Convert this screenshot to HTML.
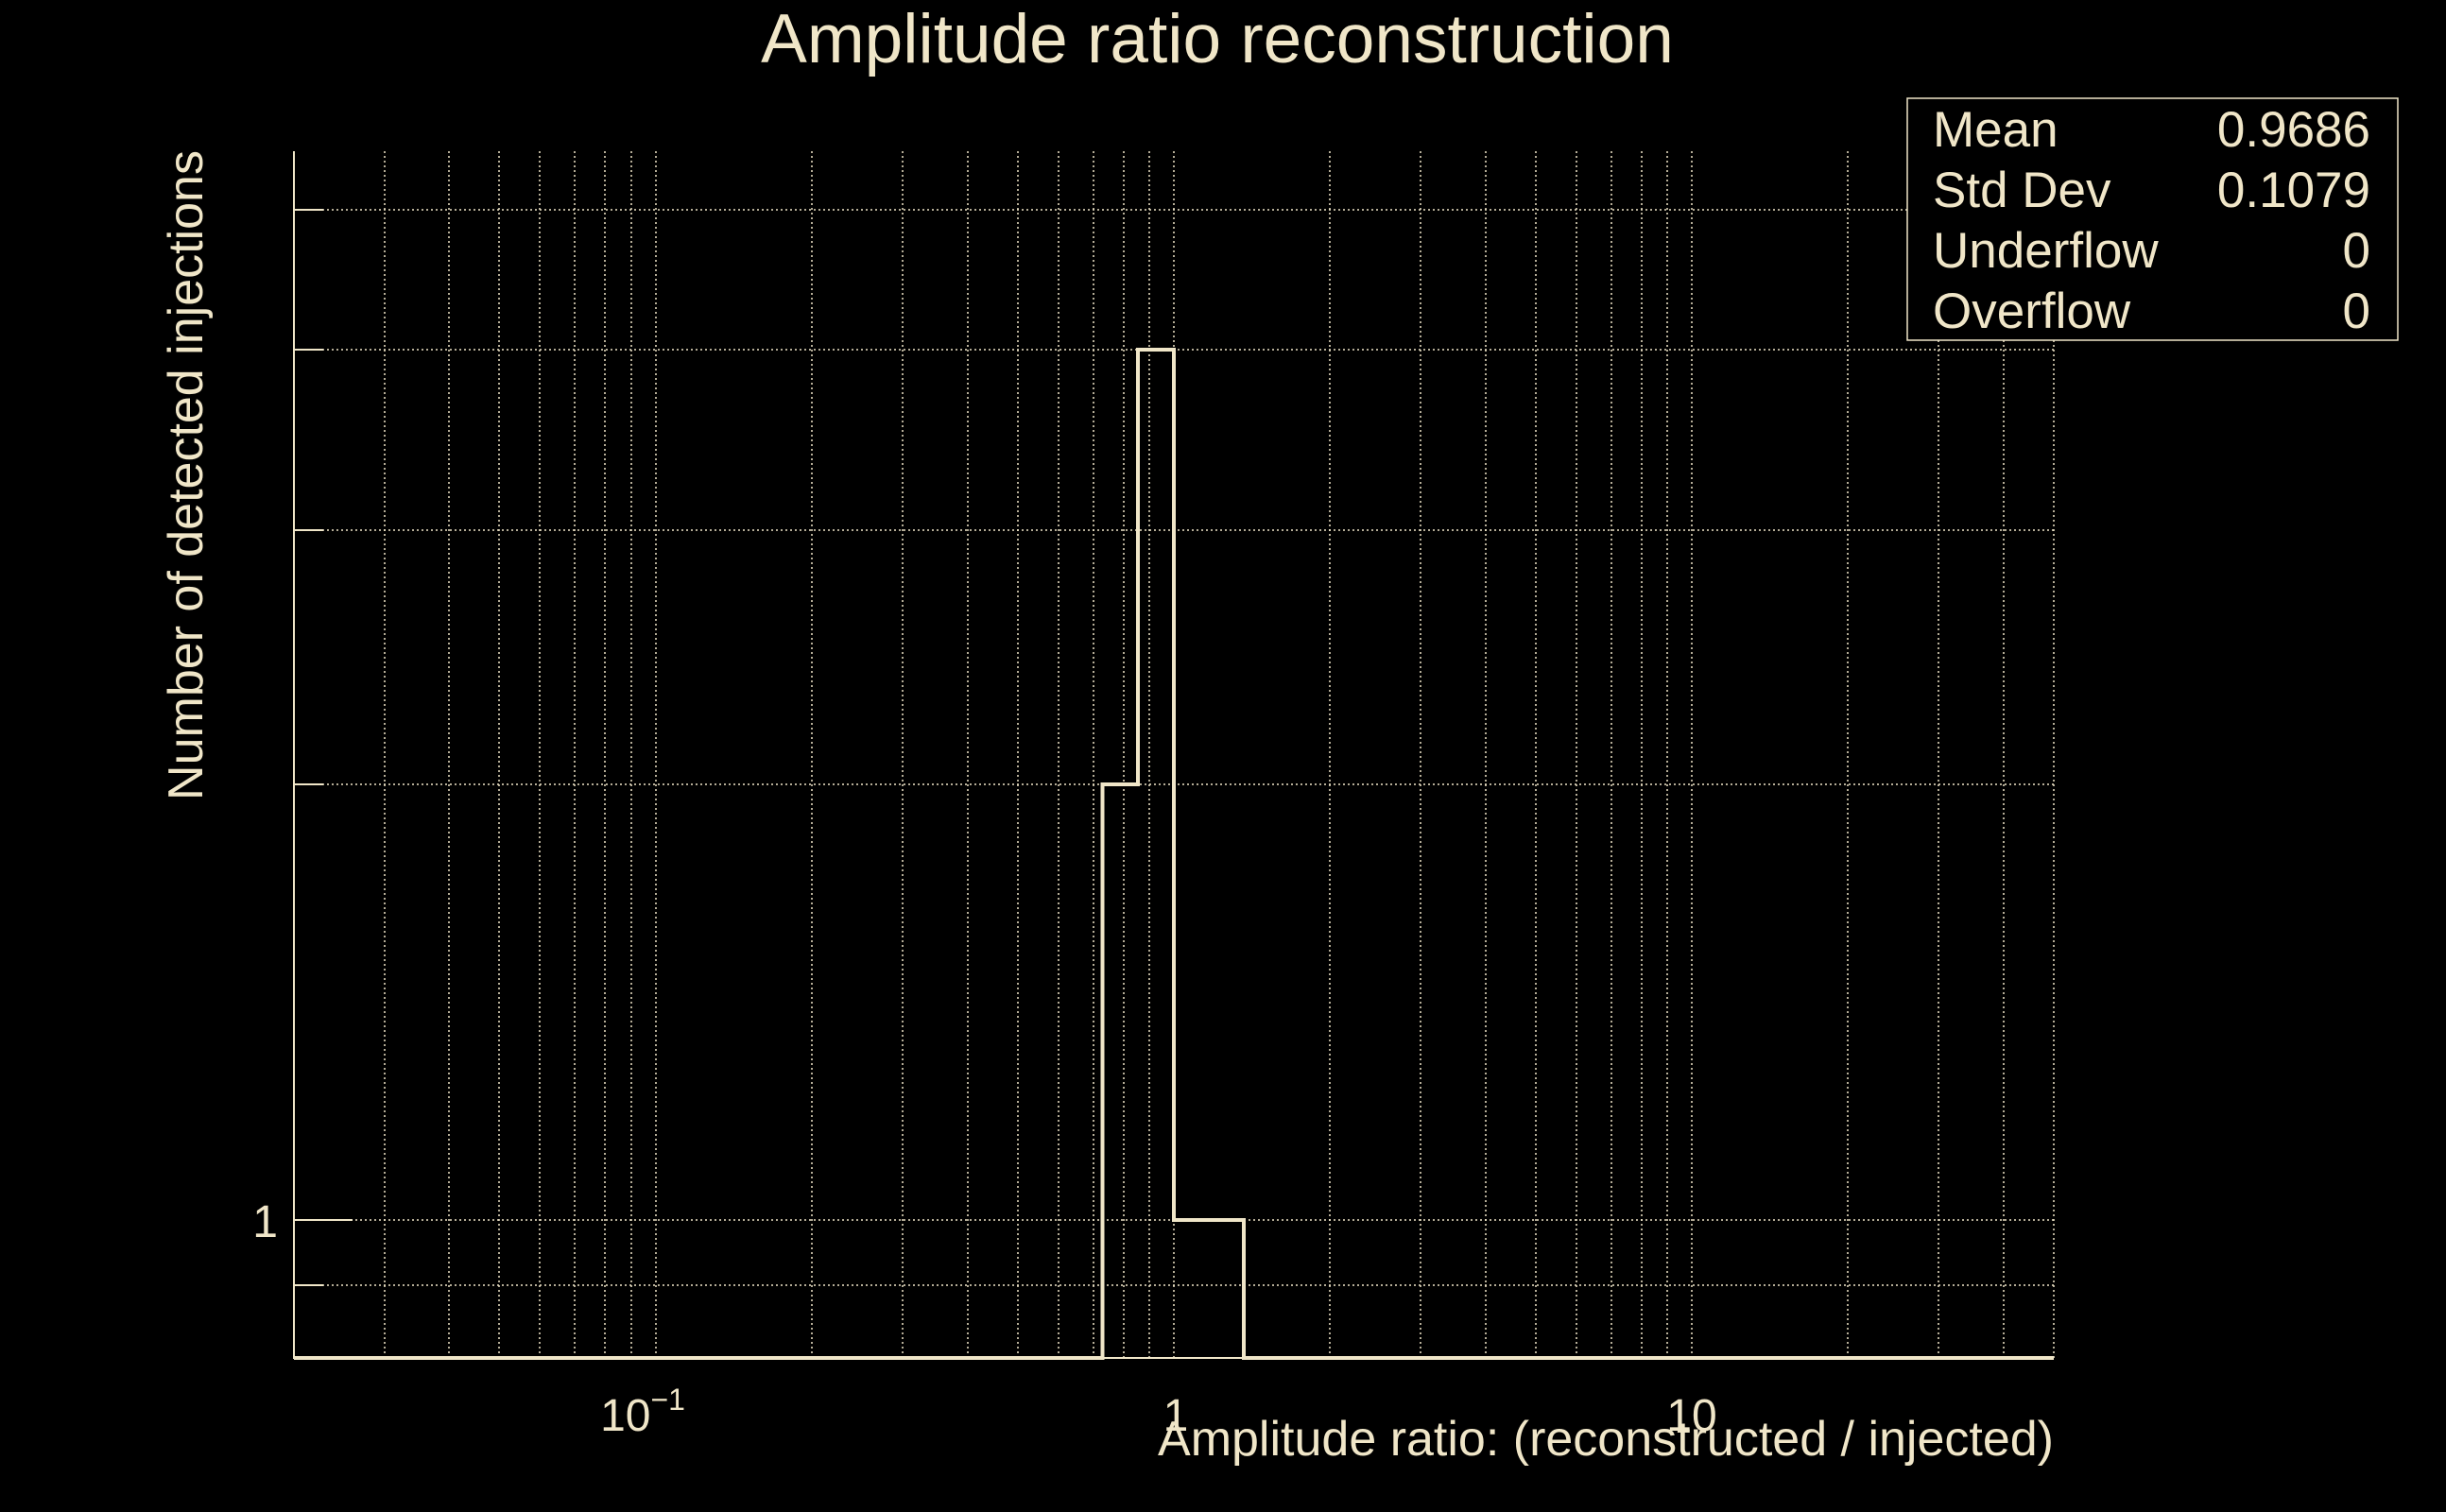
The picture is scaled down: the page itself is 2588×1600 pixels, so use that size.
<!DOCTYPE html>
<html><head><meta charset="utf-8"><style>
html,body{margin:0;padding:0;background:#000;}
svg{display:block;}
text{font-family:"Liberation Sans",sans-serif;fill:#f0e6c8;}
</style></head><body>
<svg width="2588" height="1600" viewBox="0 0 2588 1600" xmlns="http://www.w3.org/2000/svg">
<rect width="2588" height="1600" fill="#000"/>
<g stroke="#f0e6c8" stroke-width="1.5" stroke-dasharray="2,3" fill="none">
<path d="M407,160V1437 M475,160V1437 M528,160V1437 M571,160V1437 M608,160V1437 M640,160V1437 M668,160V1437 M694,160V1437
M859,160V1437 M955,160V1437 M1024,160V1437 M1077,160V1437 M1120,160V1437 M1157,160V1437 M1189,160V1437 M1216,160V1437 M1242,160V1437
M1407,160V1437 M1503,160V1437 M1572,160V1437 M1625,160V1437 M1668,160V1437 M1705,160V1437 M1737,160V1437 M1764,160V1437 M1790,160V1437
M1955,160V1437 M2051,160V1437 M2120,160V1437 M2173,160V1437"/>
<path d="M311,222H2173 M311,370H2173 M311,561H2173 M311,830H2173 M311,1291H2173 M311,1360H2173"/>
</g>
<g stroke="#f0e6c8" stroke-width="2" fill="none">
<path d="M311,160V1437H2173"/>
<path d="M311,222h31 M311,370h31 M311,561h31 M311,830h31 M311,1291h62 M311,1360h31"/>
</g>
<path d="M311,1437H1166.5V830H1204V370H1242V1291H1316V1437H2173" stroke="#f0e6c8" stroke-width="4" fill="none"/>
<text x="1288" y="66" font-size="73" text-anchor="middle">Amplitude ratio reconstruction</text>
<text transform="translate(214,503) rotate(-90)" font-size="52" text-anchor="middle">Number of detected injections</text>
<text x="2173" y="1540" font-size="52" text-anchor="end">Amplitude ratio: (reconstructed / injected)</text>
<text x="294" y="1309" font-size="48" text-anchor="end">1</text>
<text x="680" y="1514" font-size="48" text-anchor="middle">10<tspan dy="-22" font-size="32">−1</tspan></text>
<text x="1244" y="1514" font-size="48" text-anchor="middle">1</text>
<text x="1790" y="1514" font-size="48" text-anchor="middle">10</text>
<rect x="2018" y="104" width="519" height="256" fill="#000" stroke="#f0e6c8" stroke-width="1.5"/>
<g font-size="53">
<text x="2045" y="155">Mean</text><text x="2508" y="155" text-anchor="end">0.9686</text>
<text x="2045" y="219">Std Dev</text><text x="2508" y="219" text-anchor="end">0.1079</text>
<text x="2045" y="283">Underflow</text><text x="2508" y="283" text-anchor="end">0</text>
<text x="2045" y="347">Overflow</text><text x="2508" y="347" text-anchor="end">0</text>
</g>
</svg>
</body></html>
